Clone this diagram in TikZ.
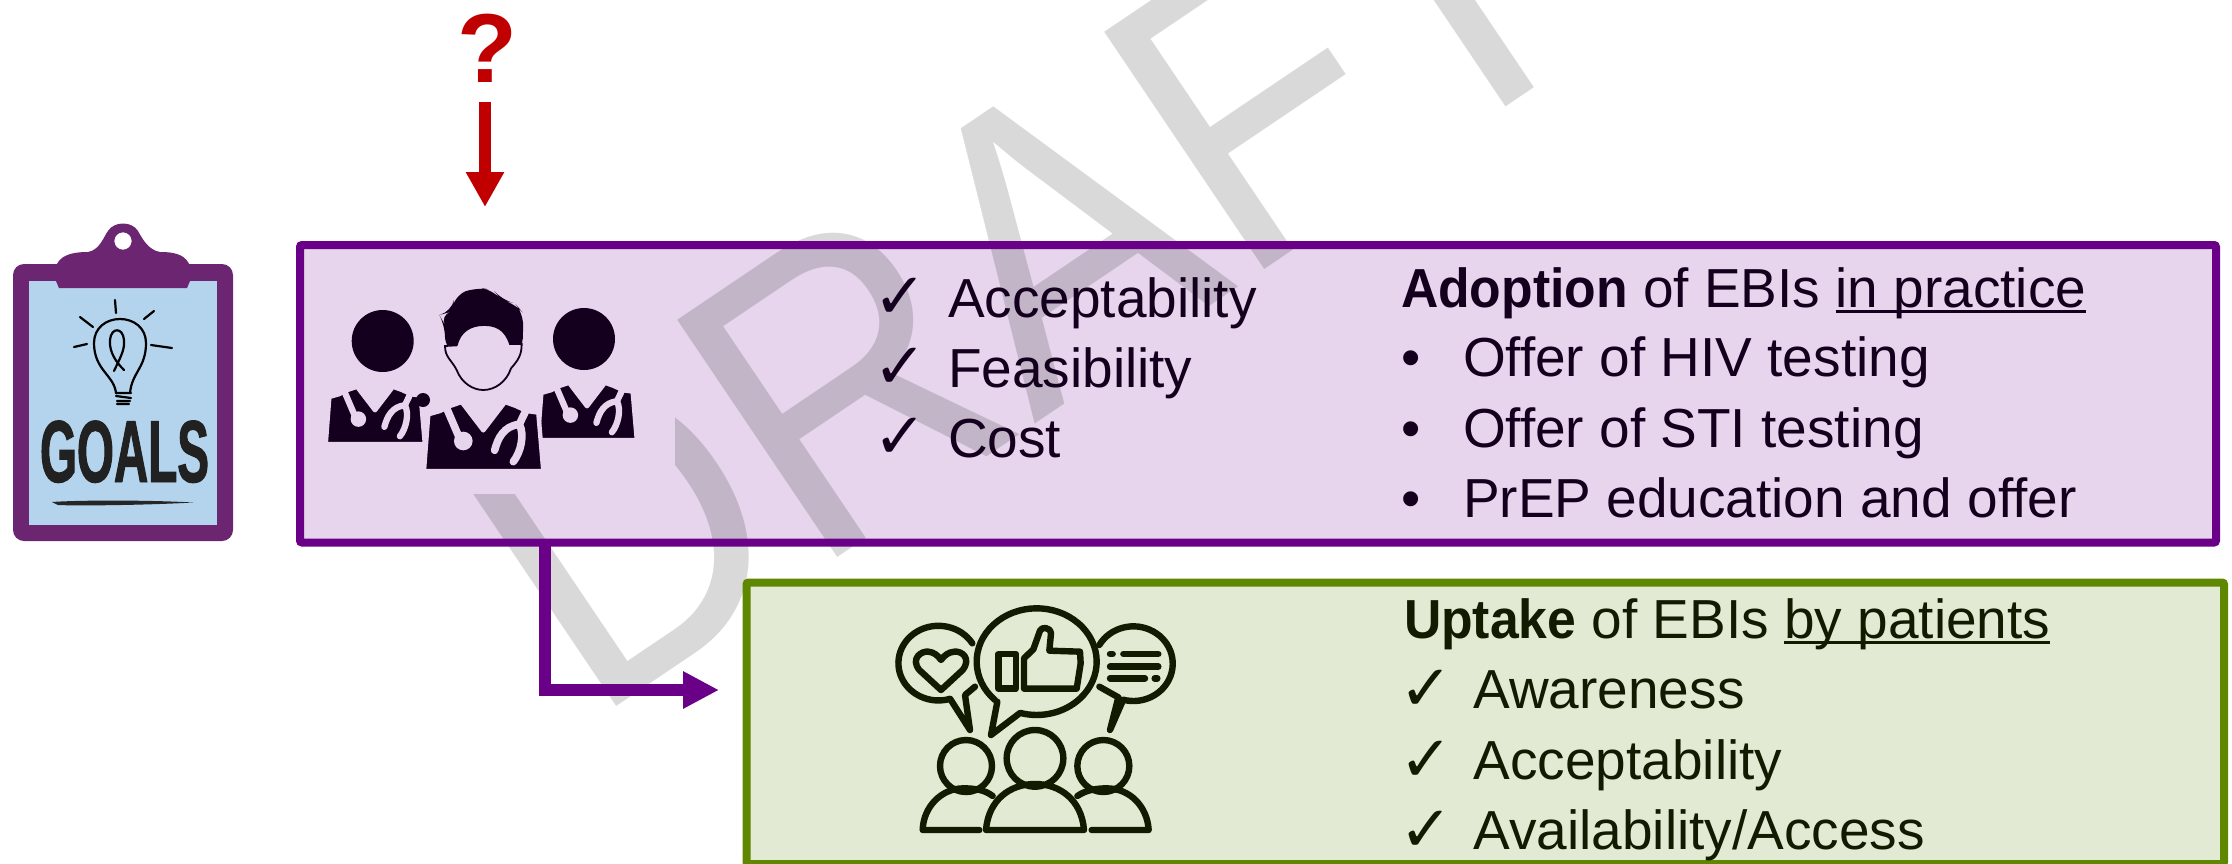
\documentclass[tikz,border=0pt]{standalone}
\usepackage{fontspec}
\usetikzlibrary{arrows.meta}
\setmainfont{Liberation Sans}
\newfontfamily\symfont{DejaVu Sans}
\newfontfamily\wmfont[FakeStretch=0.89]{Liberation Sans}
\newfontfamily\goalsfont[FakeStretch=0.54,FakeBold=1.1]{Liberation Sans Bold}
\newfontfamily\leadfont[FakeStretch=0.94]{Liberation Sans Bold}
\newcommand\myul[1]{\setbox0\hbox{#1}\rlap{\rule[-2.8pt]{\wd0}{1.4pt}}\box0}
\definecolor{purpleline}{HTML}{6A0087}
\definecolor{purplefill}{HTML}{E6D5EC}
\definecolor{greenline}{HTML}{5F8700}
\definecolor{greenfill}{HTML}{E2EAD4}
\definecolor{arrowred}{HTML}{C00000}
\definecolor{clipviolet}{HTML}{6C2570}
\definecolor{paperblue}{HTML}{B3D4EC}
\definecolor{inkp}{HTML}{14001E}
\definecolor{inkg}{HTML}{121A00}
\tikzset{
  txt/.style={anchor=base west,inner sep=0pt,outer sep=0pt,font=\fontsize{27.5}{33}\selectfont},
  ptxt/.style={txt,text=inkp},
  gtxt/.style={txt,text=inkg},
  pcheck/.style={anchor=base west,inner sep=0pt,text=inkp,font=\symfont\fontsize{32}{36}\selectfont},
  gcheck/.style={anchor=base west,inner sep=0pt,text=inkg,font=\symfont\fontsize{32}{36}\selectfont},
  bulb/.style={draw=black,line width=1.1pt,line cap=round,line join=round},
  gicon/.style={draw=inkg,line width=3.2pt,line join=round,line cap=round},
}
\newcommand\docbody[4]{%
  \begin{scope}[shift={(#1,#2)},scale=#3/3]
    \path[fill=inkp,draw=#4,line width=2.2pt,line join=round]
      (-178,0) -- (-165,-170) -- (-130,-180) -- (-100,-195) -- (-65,-207) -- (0,-122)
      -- (65,-207) -- (98,-195) -- (130,-180) -- (165,-175) -- (180,0) -- cycle;
    \draw[purplefill,line width=#3*3.8pt,line cap=round] (-115,-200) -- (-72,-100);
    \fill[purplefill] (-60,-90) circle[radius=28];
    \draw[purplefill,line width=#3*3.8pt,line cap=round,line join=round]
      (34,-62) .. controls (44,-100) and (62,-135) .. (108,-140)
      .. controls (125,-110) and (112,-55) .. (90,-28);
    \draw[purplefill,line width=#3*3.8pt,line cap=round] (108,-140) -- (132,-190);
  \end{scope}}
\begin{document}
\begin{tikzpicture}[x=0.5pt,y=-0.5pt]
\useasboundingbox (0,0) rectangle (2232,863);
% boxes and watermark
\node[fill=purplefill,minimum width=958pt,minimum height=148.75pt,inner sep=0pt,outer sep=0pt] (adoption) at (1258,393.75) {};
\begin{scope}
  \clip (0,494) -- (675,494) -- (675,0) -- (2232,0) -- (2232,863) -- (0,863) -- cycle;
  \node[anchor=base west,inner sep=0pt,rotate=34,text=black,text opacity=0.15,font=\wmfont\fontsize{208}{240}\selectfont] (draft) at (591,724) {DRAFT};
\end{scope}
\draw[purpleline,line width=4pt,rounded corners=1pt] (adoption.north west) rectangle (adoption.south east);
% elbow arrow
\coordinate (elbow) at (545,690);
\coordinate (elbowend) at (719,690);
\draw[purpleline,line width=5.6pt,-{Triangle[length=18pt,width=17.5pt]}] (adoption.south -| elbow) -- (elbow) -- (elbowend);
\node[fill=greenfill,draw=greenline,line width=4pt,minimum width=738.75pt,minimum height=140.75pt,inner sep=0pt,outer sep=0pt,rounded corners=1pt] (uptake) at (1485.25,723.25) {};
% question and red arrow
\node[inner sep=0pt,text=arrowred,font=\bfseries\fontsize{49}{55}\selectfont,anchor=base] (question) at (487,82) {?};
\coordinate (redstart) at (485,102);
\coordinate (redend) at (485,207);
\draw[arrowred,line width=5.85pt,-{Triangle[length=17.5pt,width=18pt]}] (redstart) -- (redend);
% clipboard
\fill[clipviolet,rounded corners=5.5pt] (13,264) rectangle (233,541);
\fill[paperblue] (29,281) rectangle (217,525);
\fill[clipviolet,even odd rule] (59,288) -- (56,281) -- (56,266) .. controls (60,256) and (70,252) .. (88,252)
  .. controls (100,250) and (104,236) .. (108,231) .. controls (114,221) and (132,221) .. (138,231)
  .. controls (142,238) and (148,250) .. (160,252) .. controls (178,252) and (186,256) .. (190,266)
  -- (190,281) -- (187,288) -- cycle (123,241) circle[radius=8.7];
\draw[bulb] (115,300) -- (116,313) (144,319) -- (154,311) (151,345) -- (172,348) (74,347) -- (87,344) (80,317) -- (93,327);
\draw[bulb] (116,393) .. controls (114,375) and (94,370) .. (94,343) .. controls (94,328) and (106,319) .. (120,319)
  .. controls (134,319) and (146,328) .. (146,343) .. controls (146,368) and (132,372) .. (130,393);
\draw[bulb] (116,393) -- (131,393) (116,396) -- (131,398) (117,401) -- (130,401) (117,404) -- (129,404);
\draw[bulb] (114,371) .. controls (120,358) and (125,350) .. (124,340) .. controls (123,327) and (111,327) .. (110,340)
  .. controls (109,352) and (116,362) .. (124,370);
\node[inner sep=0pt,text=black!87,font=\goalsfont\fontsize{44}{50}\selectfont,anchor=base] (goals) at (124.5,482) {GOALS};
\fill[black!85] (52,502) .. controls (80,500) and (150,500) .. (193,502.5) .. controls (150,505) and (80,506) .. (58,505) -- cycle;
% doctors
\fill[inkp] (382.7,341) circle[radius=31];
\fill[inkp] (584,339) circle[radius=31];
\docbody{375}{444}{0.83}{purplefill}
\docbody{587}{440}{0.83}{purplefill}
\fill[inkp] (423,400) circle[radius=7];
\docbody{483.3}{471}{1}{purplefill}
\begin{scope}[shift={(310,270)},scale=1/3]
  \fill[inkp,rounded corners=6pt] (388,135) -- (425,125) -- (435,75) -- (500,52) -- (550,60) -- (575,90) -- (615,100) -- (640,130) -- (638,240) -- (600,260) -- (440,260) -- (405,235) -- (405,165) -- cycle;
  \path[fill=purplefill,draw=inkp,line width=0.9pt] (600,222) .. controls (585,175) and (555,165) .. (522,165)
     .. controls (480,165) and (450,185) .. (440,226) -- (405,228)
     .. controls (405,262) and (425,270) .. (440,300) .. controls (455,340) and (490,360) .. (520,360)
     .. controls (555,360) and (590,335) .. (603,295) .. controls (625,270) and (635,255) .. (635,222) -- cycle;
\end{scope}
% feedback icon
\begin{scope}[shift={(860,580)},scale=1/3]
  \draw[gicon] (405,360) arc[start angle=134,end angle=466,x radius=180,y radius=160] -- (393,465) -- (412,365);
  \draw[gicon] (337,190) arc[start angle=-32,end angle=-287,x radius=120,y radius=112] -- (330,450) -- (315,345) -- (345,320);
  \draw[gicon] (718,195) arc[start angle=-150,end angle=105,x radius=118,y radius=112] -- (750,450) -- (775,352) -- (718,320);
  \draw[gicon] (243,330) -- (178,270) .. controls (150,235) and (185,212) .. (205,215) .. controls (222,216) and (235,228) .. (243,240)
     .. controls (251,228) and (265,216) .. (283,215) .. controls (305,212) and (335,235) .. (308,270) -- cycle;
  \draw[gicon] (415,222) rectangle (468,326);
  \draw[gicon] (492,326) -- (492,235) -- (520,208) -- (540,152) .. controls (545,140) and (570,140) .. (573,160) -- (568,212) -- (660,215) -- (662,250) -- (650,326) -- cycle;
  \draw[gicon] (750,222) -- (758,222) (790,222) -- (895,222) (750,260) -- (895,260) (750,295) -- (855,295) (884,295) -- (892,295);
  \draw[gicon] (318,558) circle[radius=78];
  \draw[gicon] (525,535) circle[radius=85];
  \draw[gicon] (730,558) circle[radius=78];
  \draw[gicon] (378,750) .. controls (385,660) and (450,612) .. (525,612) .. controls (600,612) and (665,660) .. (672,750) -- cycle;
  \draw[gicon] (358,750) -- (188,750) .. controls (190,680) and (245,625) .. (310,625) .. controls (345,625) and (375,630) .. (398,648);
  \draw[gicon] (695,750) -- (866,750) .. controls (862,680) and (810,625) .. (740,625) .. controls (705,625) and (675,632) .. (652,648);
\end{scope}
% first list
\node[pcheck] (c1) at (873,318) {✓};
\node[pcheck] (c2) at (873,388) {✓};
\node[pcheck] (c3) at (873,458) {✓};
\node[ptxt] (t1) at (948,317) {Acceptability};
\node[ptxt] (t2) at (948,387) {Feasibility};
\node[ptxt] (t3) at (948,457) {Cost};
% adoption list
\node[ptxt] (a0) at (1401,307) {{\leadfont Adoption} of EBIs \myul{in practice}};
\node[ptxt] (b1) at (1401,376) {•};
\node[ptxt] (b2) at (1401,447) {•};
\node[ptxt] (b3) at (1401,517) {•};
\node[ptxt] (a1) at (1463,376) {Offer of HIV testing};
\node[ptxt] (a2) at (1463,447) {Offer of STI testing};
\node[ptxt] (a3) at (1463,517) {PrEP education and offer};
% uptake list
\node[gtxt] (u0) at (1404,638) {{\leadfont Uptake} of EBIs \myul{by patients}};
\node[gcheck] (g1) at (1399,710) {✓};
\node[gcheck] (g2) at (1399,781) {✓};
\node[gcheck] (g3) at (1399,851) {✓};
\node[gtxt] (u1) at (1473.5,708) {Awareness};
\node[gtxt] (u2) at (1473.5,779) {Acceptability};
\node[gtxt] (u3) at (1473.5,849) {Availability/Access};
\end{tikzpicture}
\end{document}
